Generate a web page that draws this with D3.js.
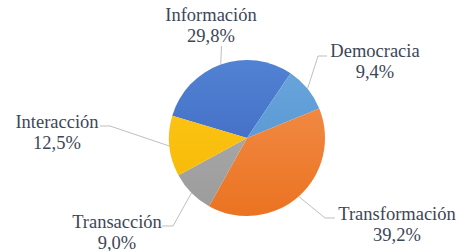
<!DOCTYPE html>
<html>
<head>
<meta charset="utf-8">
<script src="https://cdn.jsdelivr.net/npm/d3@7"></script>
<style>
  body { margin: 0; background: #fff; }
  svg { display: block; }
  text { font-family: "Times New Roman", "Liberation Serif", serif; }
</style>
</head>
<body>
<svg id="chart" width="470" height="251"></svg>
<script>
// data
const categories = ["Información", "Democracia", "Transformación", "Transacción", "Interacción"];
const values = [29.8, 9.4, 39.2, 9.0, 12.5];
const valueLabels = ["29,8%", "9,4%", "39,2%", "9,0%", "12,5%"];

// colours (top, bottom of gradient)
const colors = [
  ["#5282d3", "#3862bd"],
  ["#6aa6dc", "#4f8fd0"],
  ["#f3924f", "#eb7322"],
  ["#b0b0b0", "#9b9b9b"],
  ["#ffc81f", "#f5b800"]
];

// label placement: text centre x, first baseline y, elbow points of leader line
const labelLayout = [
  {x: 211, y: 21, elbow: [[221.5, 46]]},
  {x: 375, y: 57, elbow: [[318, 56], [327, 56]]},
  {x: 397, y: 220, elbow: [[325, 218], [335, 218]]},
  {x: 117, y: 228, elbow: [[173, 226], [162, 226]]},
  {x: 57, y: 128, elbow: [[110, 126], [100, 126]]}
];

const svg = d3.select("#chart");
const cx = 247, cy = 138, radius = 78;
const startAngle = -73.4 * Math.PI / 180;

const pie = d3.pie()
    .sort(null)
    .startAngle(startAngle)
    .endAngle(startAngle + 2 * Math.PI)
    .value(d => d);

const arcs = pie(values);
const arc = d3.arc().innerRadius(0).outerRadius(radius);
const edgeArc = d3.arc().innerRadius(radius).outerRadius(radius);

// vertical gradients, lighter at the top of the pie
const defs = svg.append("defs");
colors.forEach((c, i) => {
  const gr = defs.append("linearGradient")
      .attr("id", "grad" + i)
      .attr("gradientUnits", "userSpaceOnUse")
      .attr("x1", 0).attr("y1", -radius)
      .attr("x2", 0).attr("y2", radius);
  gr.append("stop").attr("offset", "0%").attr("stop-color", c[0]);
  gr.append("stop").attr("offset", "100%").attr("stop-color", c[1]);
});

const g = svg.append("g").attr("transform", `translate(${cx},${cy})`);

g.selectAll("path.slice")
  .data(arcs)
  .join("path")
    .attr("class", "slice")
    .attr("d", arc)
    .attr("fill", (d, i) => `url(#grad${i})`);

// leader lines
const line = d3.line();
arcs.forEach((d, i) => {
  const p = edgeArc.centroid(d);
  const pts = [[cx + p[0], cy + p[1]]].concat(labelLayout[i].elbow);
  svg.append("path")
      .attr("d", line(pts))
      .attr("fill", "none")
      .attr("stroke", "#bfbfbf")
      .attr("stroke-width", 1);
});

// labels: centred by measuring, two separate lines each
function addText(x, y, str) {
  const t = svg.append("text")
      .attr("x", x)
      .attr("y", y)
      .attr("font-family", "Times New Roman, Liberation Serif, serif")
      .attr("font-size", 18.5)
      .attr("fill", "#3d4657")
      .text(str);
  const w = t.node().getComputedTextLength();
  t.attr("x", x - w / 2);
}
categories.forEach((name, i) => {
  addText(labelLayout[i].x, labelLayout[i].y, name);
  addText(labelLayout[i].x, labelLayout[i].y + 20.5, valueLabels[i]);
});
</script>
</body>
</html>
